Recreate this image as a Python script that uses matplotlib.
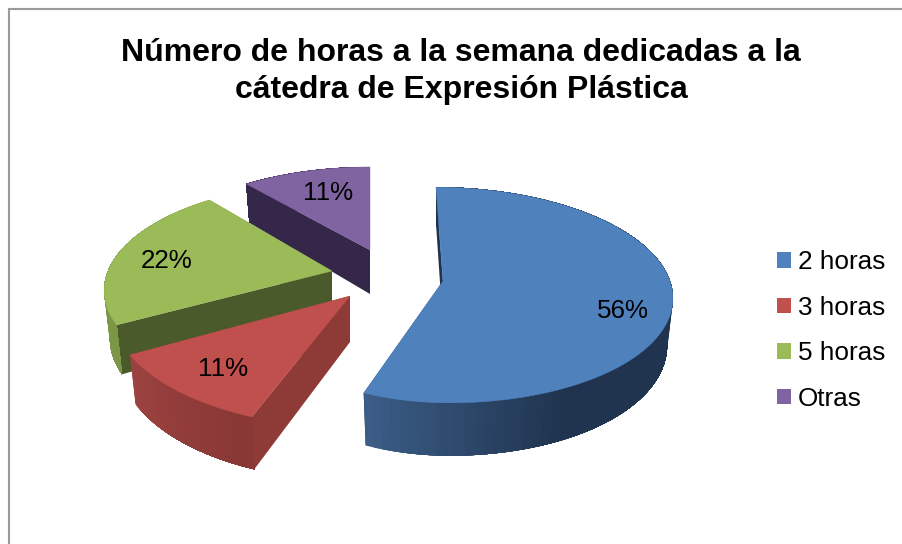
import numpy as np
import matplotlib
matplotlib.use("Agg")
import matplotlib.pyplot as plt
from matplotlib.patches import Polygon, Patch
from matplotlib.colors import to_rgb

title_lines = ["Número de horas a la semana dedicadas a la", "cátedra de Expresión Plástica"]
categories = ["2 horas", "3 horas", "5 horas", "Otras"]
percent_values = [56, 11, 22, 11]

colors = ["#4f81bd", "#c0504d", "#9bbb59", "#8064a2"]
cut_colors = ["#20344f", "#8e3b38", "#4b5a2a", "#35274a"]
# wall colour: at slice's clockwise end -> towards its far side
wall_colors = [("#3c5f8a", "#20344f", 0.24), ("#9c4341", "#8a3836", 0.9),
               ("#86a34d", "#7c9647", 1.0), ("#35274a", "#35274a", 1.0)]
# layout of each exploded slice in the projection
tips = [(443, 281), (350, 296), (332, 271), (370, 250)]
proj = [dict(b=227, bl=205, a=106, k=0.13, sh=7, d=46),
        dict(b=236, bl=236, a=115, k=0.124, sh=0, d=46),
        dict(b=224, bl=224, a=103.4, k=0.158, sh=-6, d=46),
        dict(b=218, bl=218, a=96.3, k=0.16, sh=0, d=44)]
label_pos = [(623, 310.5), (223, 369.5), (167, 260.5), (328, 193.5)]

plt.rcParams["font.family"] = ["Liberation Sans", "DejaVu Sans"]
fig = plt.figure(figsize=(9.02, 5.44), dpi=100)
ax = fig.add_axes([0, 0, 1, 1])
ax.set_xlim(0, 902)
ax.set_ylim(544, 0)
ax.axis("off")


def project(theta, tip, p, bottom=False):
    X, Y = np.sin(theta), -np.cos(theta)
    w = 1 - p["k"] * Y
    bx = np.where(X < 0, p["bl"], p["b"])
    dx = X * bx / w + p["sh"] * Y
    dy = p["a"] * Y / w
    if bottom:
        dx = dx * 0.975
        dy = dy + p["d"] * (1 + 0.15 * Y)
    return tip[0] + dx, tip[1] + dy


def lerp(c1, c2, t):
    a, b = np.array(to_rgb(c1)), np.array(to_rgb(c2))
    return tuple(a + (b - a) * t)


fractions = np.array(percent_values) / sum(percent_values)
edges = np.concatenate([[0], np.cumsum(fractions)]) * 2 * np.pi
z = 1
for i in [3, 2, 1, 0]:
    t0, t1 = edges[i], edges[i + 1]
    p, tip = proj[i], tips[i]
    thetas = np.linspace(t0, t1, 90)
    xt, yt = project(thetas, tip, p)
    xb, yb = project(thetas, tip, p, bottom=True)
    tipb = (tip[0], tip[1] + p["d"])
    # radial cut faces
    for j in (0, -1):
        ax.add_patch(Polygon([tip, (xt[j], yt[j]), (xb[j], yb[j]), tipb],
                             closed=True, fc=cut_colors[i], ec="none", zorder=z))
    z += 1
    # outer wall, shaded strip by strip; each strip runs under the next to avoid seams
    c_end, c_far, span = wall_colors[i]
    for j in range(len(thetas) - 1):
        t = min(1.0, (t1 - thetas[j]) / ((t1 - t0) * span))
        c = lerp(c_end, c_far, t)
        ax.add_patch(Polygon(list(zip(xt[:j + 2], yt[:j + 2])) + list(zip(xb[:j + 2], yb[:j + 2]))[::-1],
                             closed=True, fc=c, ec="none", zorder=z - j * 0.001))
    z += 1
    ax.add_patch(Polygon(list(zip(xt, yt)) + [tip], closed=True, fc=colors[i], ec=colors[i], lw=0.3, zorder=z))
    z += 1

for v, pos in zip(percent_values, label_pos):
    ax.text(pos[0], pos[1], f"{v}%", ha="center", va="center", fontsize=18.7, color="black", zorder=50)

ax.text(461, 53, title_lines[0], ha="center", va="center", fontsize=23.0, fontweight="bold", color="black")
ax.text(461, 90, title_lines[1], ha="center", va="center", fontsize=23.0, fontweight="bold", color="black")

handles = [Patch(facecolor=c, edgecolor="none", label=l) for c, l in zip(colors, categories)]
ax.legend(handles=handles, loc="center left", bbox_to_anchor=(777 / 902, 1 - 330.5 / 544), frameon=False,
          fontsize=18.8, handlelength=0.54, handleheight=0.54, handletextpad=0.27, labelspacing=0.82,
          borderpad=0, borderaxespad=0)

# chart-area frame, running off the right and bottom of the crop
ax.plot([9, 9, 902], [544, 8.5, 8.5], color="#9a9a9a", lw=1.5, solid_joinstyle="miter", zorder=60)

fig.savefig("out.png", dpi=100, facecolor="white")
